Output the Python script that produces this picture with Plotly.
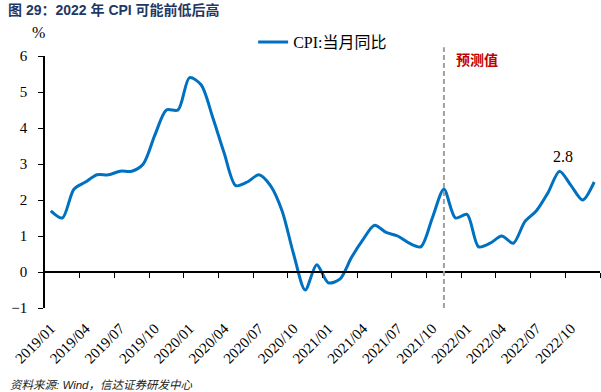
import plotly.graph_objects as go

months = [f"{y}/{m:02d}" for y in range(2019, 2023) for m in range(1, 13)]
cpi = [1.7, 1.5, 2.3, 2.5, 2.7, 2.7, 2.8, 2.8, 3.0, 3.8, 4.5, 4.5,
       5.4, 5.2, 4.3, 3.3, 2.4, 2.5, 2.7, 2.4, 1.7, 0.5, -0.5, 0.2,
       -0.3, -0.2, 0.4, 0.9, 1.3, 1.1, 1.0, 0.8, 0.7, 1.5, 2.3, 1.5,
       1.6, 0.7, 0.8, 1.0, 0.8, 1.4, 1.7, 2.2, 2.8, 2.4, 2.0, 2.5]
tick_labels = months[::3]
forecast_start = "2021/11"
peak_label_month = "2022/09"

SERIF = "Times New Roman, Liberation Serif, Noto Sans CJK SC, serif"
CJK = "Noto Sans CJK SC, sans-serif"

idx = list(range(len(months)))
n = len(months)

fig = go.Figure()
fig.add_trace(go.Scatter(
    x=idx, y=cpi, mode="lines", name="CPI:当月同比",
    line=dict(color="#0070C0", width=3, shape="spline", smoothing=0.8),
    hovertext=months,
))
# dummy trace to make the zero-line axis exist
fig.add_trace(go.Scatter(x=[], y=[], xaxis="x2", showlegend=False))

fig.update_layout(
    width=601, height=392,
    margin=dict(l=45, r=1, t=56, b=84, autoexpand=False),
    paper_bgcolor="white", plot_bgcolor="white",
    showlegend=True,
    legend=dict(orientation="h", x=0.375, xanchor="left", y=1.055, yanchor="middle",
                font=dict(family=SERIF, size=16, color="black"),
                bgcolor="rgba(0,0,0,0)"),
    xaxis=dict(range=[-0.5, n - 0.5], tickmode="array", automargin=False,
               tickvals=idx[::3], ticktext=tick_labels, tickangle=-45,
               showline=False, ticks="", showgrid=False, zeroline=False,
               ticklabelstandoff=8,
               tickfont=dict(family=SERIF, size=15, color="black")),
    xaxis2=dict(range=[-0.5, n - 0.5], overlaying="x", anchor="free",
                position=1 / 7, side="bottom", automargin=False,
                tickmode="array", tickvals=[i + 2.5 for i in idx[::3]],
                ticks="outside", ticklen=5, tickwidth=1.3, tickcolor="black",
                showticklabels=False, showline=True, linecolor="black",
                linewidth=1.5, showgrid=False, zeroline=False),
    yaxis=dict(range=[-1, 6], dtick=1, tick0=0, ticks="outside", ticklen=5,
               tickwidth=1.3, tickcolor="black", automargin=False,
               showline=True, linecolor="black", linewidth=1.5,
               showgrid=False, zeroline=False, ticklabelstandoff=8,
               tickfont=dict(family=SERIF, size=15, color="black")),
)

fs = months.index(forecast_start)
fig.add_shape(type="line", xref="x", yref="paper", x0=fs, x1=fs, y0=0, y1=1.035,
              line=dict(color="#A0A0A0", width=2, dash="5px,3px"))

fig.add_annotation(xref="x", yref="paper", x=fs, y=0.987, xanchor="left",
                   xshift=10, yanchor="middle", showarrow=False,
                   text="<b>预测值</b>", font=dict(family=CJK, size=14, color="#C00000"))

pk = months.index(peak_label_month)
fig.add_annotation(xref="x", yref="y", x=pk, y=cpi[pk], yshift=15, xshift=3,
                   showarrow=False, text=f"{cpi[pk]}",
                   font=dict(family=SERIF, size=16, color="black"))

fig.add_annotation(xref="paper", yref="paper", x=-0.011, y=1.094,
                   xanchor="center", yanchor="middle", showarrow=False,
                   text="%", font=dict(family=SERIF, size=16, color="black"))

fig.add_annotation(xref="paper", yref="paper", x=-0.07, y=1.181, xanchor="left",
                   yanchor="middle", showarrow=False,
                   text="<b>图 29：2022 年 CPI 可能前低后高</b>",
                   font=dict(family="Liberation Sans, Noto Sans CJK SC, sans-serif",
                             size=14, color="#1F3864"))

fig.add_annotation(xref="paper", yref="paper", x=-0.067, y=-0.305, xanchor="left",
                   yanchor="middle", showarrow=False,
                   text="<i>资料来源: Wind，信达证券研发中心</i>",
                   font=dict(family="Liberation Sans, Noto Sans CJK SC, sans-serif",
                             size=11.5, color="#222222"))

fig.write_html("out.html", config={"displayModeBar": False},
               post_script="document.body.style.margin='0';document.body.style.padding='0';")
